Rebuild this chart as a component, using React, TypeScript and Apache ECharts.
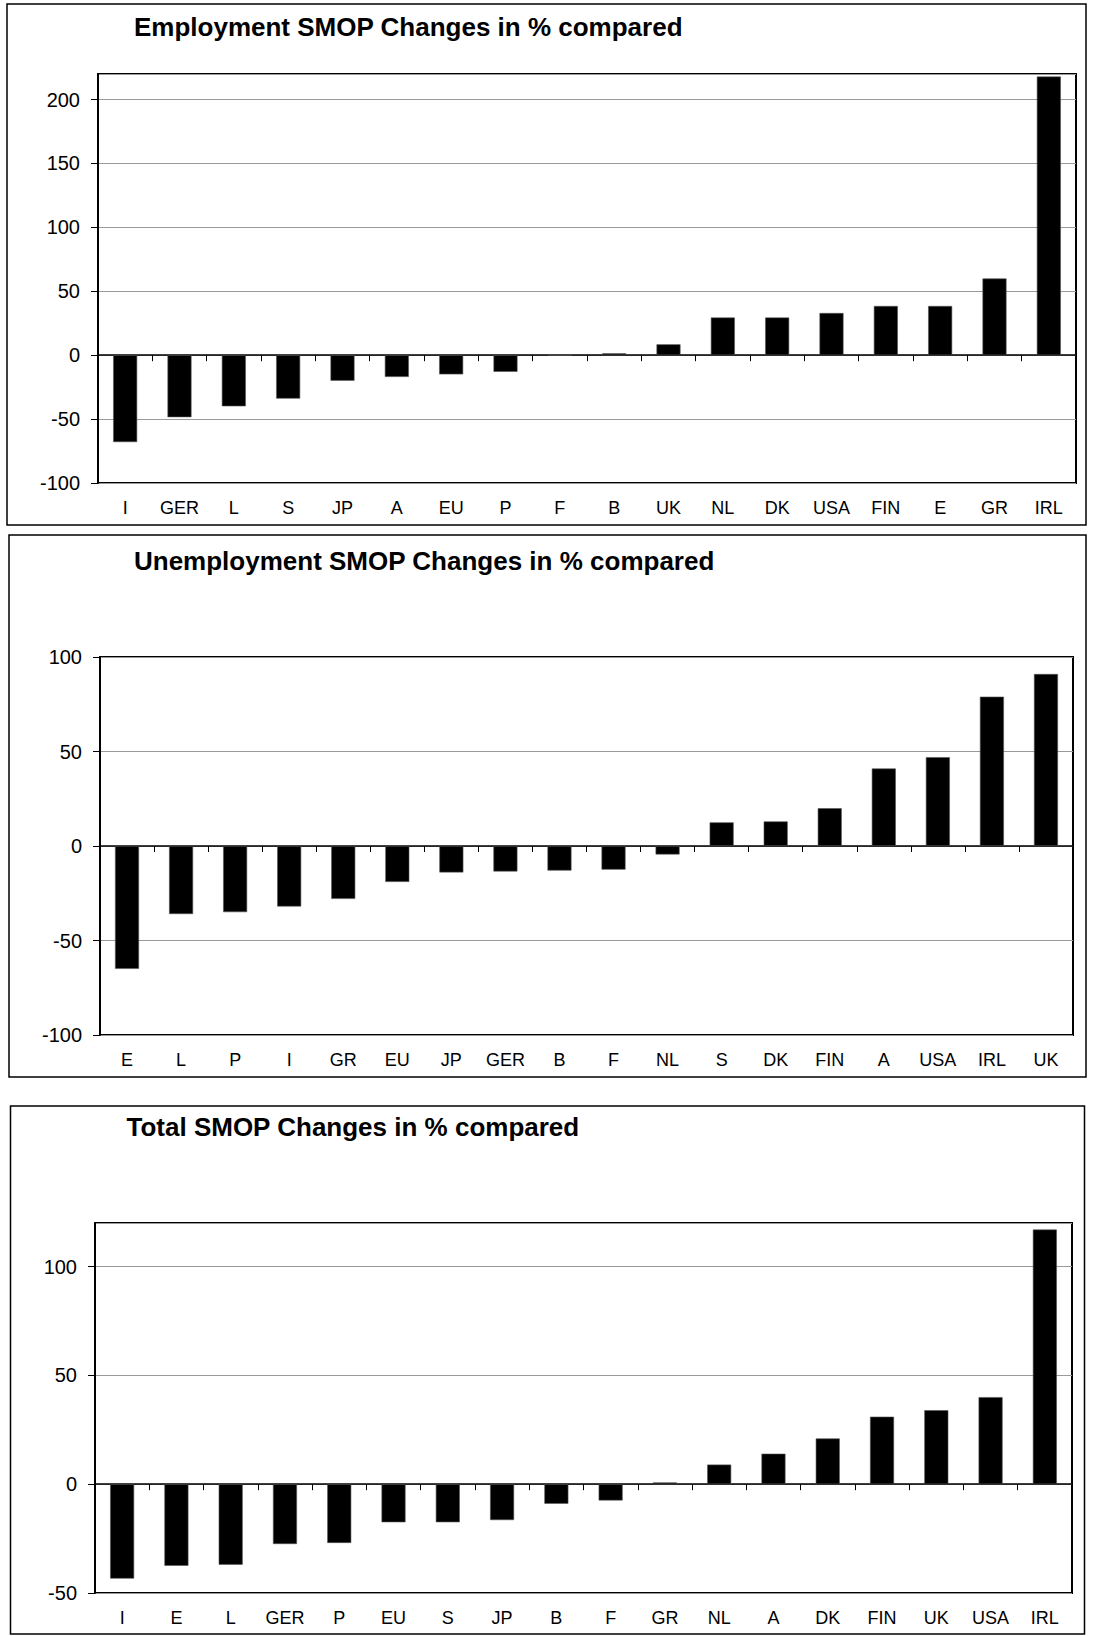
import React, { useEffect, useRef } from 'react';
import * as echarts from 'echarts';

const empCategories = ['I', 'GER', 'L', 'S', 'JP', 'A', 'EU', 'P', 'F', 'B', 'UK', 'NL', 'DK', 'USA', 'FIN', 'E', 'GR', 'IRL'];
const empValues = [-68, -48.5, -40, -34, -20, -17, -15, -13, 0, 1.5, 8.5, 29.5, 29.5, 33, 38.5, 38.5, 60, 218];

const unempCategories = ['E', 'L', 'P', 'I', 'GR', 'EU', 'JP', 'GER', 'B', 'F', 'NL', 'S', 'DK', 'FIN', 'A', 'USA', 'IRL', 'UK'];
const unempValues = [-65, -36, -35, -32, -28, -19, -14, -13.5, -13, -12.5, -4.5, 12.5, 13, 20, 41, 47, 79, 91];

const totalCategories = ['I', 'E', 'L', 'GER', 'P', 'EU', 'S', 'JP', 'B', 'F', 'GR', 'NL', 'A', 'DK', 'FIN', 'UK', 'USA', 'IRL'];
const totalValues = [-43.4, -37.5, -37, -27.5, -27, -17.5, -17.5, -16.5, -9, -7.5, 0.8, 9, 14, 21, 31, 34, 40, 117];

const panelTitles = [
  'Employment SMOP Changes in % compared',
  'Unemployment SMOP Changes in % compared',
  'Total SMOP Changes in % compared',
];
const yMins = [-100, -100, -50];
const yMaxs = [220, 100, 120];
const yInterval = 50;

const FONT = '"Liberation Sans", Arial, Helvetica, sans-serif';

// layout (pixels)
const grids = [
  { left: 98, top: 74, width: 978, height: 409 },
  { left: 100, top: 657, width: 973, height: 378 },
  { left: 95, top: 1223, width: 977, height: 370 },
];
const boxes = [
  { x: 7, y: 4, w: 1079, h: 521 },
  { x: 9, y: 535, w: 1077, h: 542 },
  { x: 10.5, y: 1106, w: 1074, h: 528 },
];
const titlePos = [
  { x: 134, y: 27 },
  { x: 134, y: 561 },
  { x: 126.5, y: 1127 },
];

export default function App() {
  const ref = useRef<HTMLDivElement>(null);

  useEffect(() => {
    if (!ref.current) return;
    const chart = echarts.init(ref.current, undefined, { renderer: 'svg' });
    const cats = [empCategories, unempCategories, totalCategories];
    const vals = [empValues, unempValues, totalValues];

    const xAxis: any[] = [];
    const yAxis: any[] = [];
    const series: any[] = [];
    cats.forEach((c, i) => {
      xAxis.push({
        type: 'category',
        gridIndex: i,
        data: c,
        position: 'bottom',
        axisLine: { show: true, onZero: true, lineStyle: { color: '#000', width: 1.5 } },
        axisTick: { show: true, alignWithLabel: false, inside: false, length: 6, lineStyle: { color: '#000', width: 1 } },
        axisLabel: { show: false },
        splitLine: { show: false },
      });
      xAxis.push({
        type: 'category',
        gridIndex: i,
        data: c,
        position: 'bottom',
        axisLine: { show: false, onZero: false },
        axisTick: { show: false },
        axisLabel: { show: true, margin: 16, fontSize: 18, fontFamily: FONT, color: '#000', interval: 0 },
        splitLine: { show: false },
      });
      yAxis.push({
        type: 'value',
        gridIndex: i,
        min: yMins[i],
        max: yMaxs[i],
        interval: yInterval,
        axisLine: { show: true, lineStyle: { color: '#000', width: 2 } },
        axisTick: { show: true, inside: false, length: 7, lineStyle: { color: '#000', width: 1 } },
        axisLabel: { show: true, margin: 18, fontSize: 20, fontFamily: FONT, color: '#000', showMaxLabel: yMaxs[i] % yInterval === 0 },
        splitLine: { show: true, lineStyle: { color: '#999', width: 1 } },
      });
      series.push({
        type: 'bar',
        xAxisIndex: i * 2,
        yAxisIndex: i,
        data: vals[i],
        barWidth: 24,
        itemStyle: { color: '#000', borderColor: '#555', borderWidth: 0.6 },
        z: 1,
      });
    });

    const graphic: any[] = [];
    boxes.forEach((b) => {
      graphic.push({
        type: 'rect',
        shape: { x: b.x, y: b.y, width: b.w, height: b.h },
        style: { fill: 'none', stroke: '#000', lineWidth: 1.5 },
        silent: true,
        z: -10,
      });
    });
    panelTitles.forEach((t, i) => {
      graphic.push({
        type: 'text',
        x: titlePos[i].x,
        y: titlePos[i].y,
        style: {
          text: t,
          font: `bold 26px ${FONT}`,
          fill: '#000',
          align: 'left',
          verticalAlign: 'middle',
        },
        silent: true,
      });
    });

    chart.setOption({
      animation: false,
      backgroundColor: '#fff',
      grid: grids.map((g) => ({
        left: g.left,
        top: g.top,
        width: g.width,
        height: g.height,
        show: true,
        borderColor: '#000',
        borderWidth: 2,
        backgroundColor: 'transparent',
        containLabel: false,
      })),
      xAxis,
      yAxis,
      series,
      graphic,
    });
    return () => chart.dispose();
  }, []);

  return (
    <div
      ref={ref}
      style={{ position: 'absolute', left: 0, top: 0, width: 1093, height: 1636, background: '#fff' }}
    />
  );
}
